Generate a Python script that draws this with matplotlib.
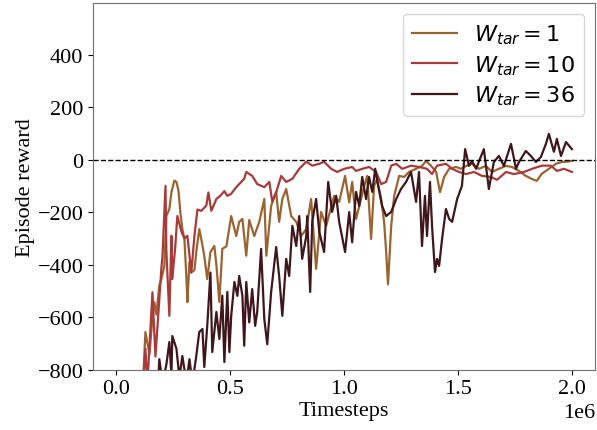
import numpy as np
import matplotlib
matplotlib.use("Agg")
import matplotlib.pyplot as plt

plt.rcParams['font.family'] = ['Liberation Serif', 'DejaVu Serif']
plt.rcParams['font.size'] = 16

# timesteps in millions, rewards
steps_w10 = [0.116, 0.129, 0.138, 0.160, 0.173, 0.182, 0.199, 0.204, 0.217, 0.221,
             0.234, 0.243, 0.247, 0.260, 0.269, 0.287, 0.300, 0.313, 0.330, 0.344,
             0.357, 0.374, 0.396, 0.405, 0.418, 0.440, 0.457, 0.475, 0.488, 0.505,
             0.527, 0.549, 0.562, 0.571, 0.597, 0.619, 0.650, 0.672, 0.685, 0.702,
             0.724, 0.746, 0.773, 0.803, 0.834, 0.860, 0.891, 0.912, 0.943, 0.969,
             1.000, 1.035, 1.052, 1.079, 1.109, 1.140, 1.162, 1.184, 1.206, 1.228,
             1.254, 1.293, 1.328, 1.363, 1.385, 1.407, 1.446, 1.473, 1.503, 1.534,
             1.569, 1.604, 1.643, 1.670, 1.709, 1.744, 1.788, 1.823, 1.866, 1.906,
             1.932, 1.963, 1.998]
reward_w10 = [-900, -720, -850, -505, -750, -635, -415, -365, -100, -350,
              -595, -290, -455, -330, -215, -275, -300, -290, -430, -290,
              -190, -195, -175, -125, -195, -150, -138, -120, -138, -130,
              -105, -85, -73, -47, -62, -93, -105, -85, -160, -125,
              -62, -85, -73, -35, -8, -23, -16, -8, -35, -47,
              -35, -28, -43, -35, -28, -47, -93, -85, -23, -16,
              -35, -23, -28, -35, -55, -23, -16, -35, -47, -55,
              -47, -62, -66, -77, -47, -55, -47, -35, -23, -23,
              -43, -35, -47]

steps_w1 = [0.116, 0.129, 0.147, 0.160, 0.168, 0.177, 0.190, 0.199, 0.212, 0.221,
            0.234, 0.243, 0.256, 0.265, 0.274, 0.282, 0.291, 0.300, 0.309, 0.313,
            0.322, 0.330, 0.344, 0.352, 0.365, 0.374, 0.387, 0.400, 0.414, 0.431,
            0.440, 0.453, 0.466, 0.484, 0.505, 0.527, 0.540, 0.554, 0.571, 0.584,
            0.606, 0.628, 0.650, 0.659, 0.680, 0.702, 0.715, 0.729, 0.746, 0.768,
            0.790, 0.812, 0.834, 0.855, 0.877, 0.899, 0.921, 0.956, 0.978, 1.004,
            1.022, 1.035, 1.052, 1.074, 1.088, 1.101, 1.118, 1.131, 1.144, 1.162,
            1.175, 1.184, 1.192, 1.206, 1.219, 1.241, 1.263, 1.284, 1.315, 1.341,
            1.359, 1.381, 1.403, 1.420, 1.438, 1.460, 1.490, 1.512, 1.534, 1.560,
            1.591, 1.621, 1.648, 1.678, 1.709, 1.735, 1.766, 1.796, 1.823, 1.844,
            1.866, 1.897, 1.928, 1.954, 1.976, 1.998]
reward_w1 = [-900, -657, -740, -600, -543, -590, -480, -455, -405, -215,
             -188, -124, -80, -85, -118, -200, -265, -302, -455, -543,
             -390, -430, -420, -352, -265, -302, -367, -455, -352, -329,
             -400, -542, -340, -330, -215, -291, -237, -226, -366, -230,
             -291, -237, -150, -366, -176, -123, -237, -150, -112, -215,
             -237, -291, -264, -150, -416, -199, -253, -138, -161, -62,
             -163, -85, -226, -150, -100, -62, -302, -100, -74, -150,
             -237, -352, -475, -253, -138, -62, -66, -47, -35, -24,
             -5, -24, -47, -124, -66, -35, -28, -35, -24, -16,
             -35, -24, -47, -35, -24, -28, -43, -62, -74, -81,
             -54, -35, -16, -9, -8, -5]

steps_w36 = [0.182, 0.190, 0.204, 0.221, 0.234, 0.243, 0.247, 0.265, 0.278, 0.291,
             0.309, 0.322, 0.335, 0.352, 0.365, 0.379, 0.387, 0.400, 0.414, 0.422,
             0.440, 0.453, 0.466, 0.475, 0.488, 0.497, 0.505, 0.519, 0.532, 0.540,
             0.554, 0.562, 0.571, 0.584, 0.597, 0.610, 0.619, 0.636, 0.650, 0.663,
             0.680, 0.702, 0.715, 0.729, 0.746, 0.759, 0.773, 0.790, 0.803, 0.816,
             0.834, 0.838, 0.851, 0.860, 0.877, 0.891, 0.912, 0.930, 0.947, 0.965,
             0.978, 1.004, 1.022, 1.035, 1.052, 1.066, 1.079, 1.096, 1.109, 1.123,
             1.136, 1.149, 1.166, 1.184, 1.206, 1.228, 1.249, 1.271, 1.293, 1.315,
             1.328, 1.341, 1.354, 1.363, 1.376, 1.385, 1.398, 1.407, 1.416, 1.429,
             1.446, 1.460, 1.473, 1.495, 1.516, 1.530, 1.547, 1.560, 1.578, 1.612,
             1.634, 1.656, 1.678, 1.700, 1.731, 1.753, 1.766, 1.796, 1.818, 1.840,
             1.862, 1.884, 1.897, 1.919, 1.932, 1.950, 1.972, 1.998]
reward_w36 = [-900, -760, -850, -780, -695, -820, -672, -720, -830, -748,
              -850, -760, -850, -748, -657, -645, -790, -633, -430, -733,
              -580, -683, -518, -771, -504, -733, -595, -466, -519, -443,
              -518, -709, -466, -620, -493, -633, -580, -340, -607, -703,
              -504, -333, -443, -595, -378, -443, -252, -329, -215, -378,
              -291, -215, -504, -237, -150, -275, -352, -85, -199, -138,
              -237, -352, -200, -315, -123, -176, -66, -150, -66, -123,
              -35, -100, -176, -215, -199, -150, -112, -85, -47, -161,
              -47, -329, -138, -291, -85, -253, -428, -378, -405, -302,
              -188, -226, -237, -150, -100, 40, -24, -5, -35, 40,
              -112, -9, 14, -24, 60, -35, -9, 33, 14, -9,
              10, 60, 98, 30, 79, 14, 67, 40]

labels = ['$W_{tar} = 1$', '$W_{tar} = 10$', '$W_{tar} = 36$']
colors = ['#9a6330', '#a83a3a', '#3f161a']

fig = plt.figure(figsize=(5.97, 4.31), dpi=100)
ax = fig.add_axes([0.156, 0.140, 0.841, 0.851])

series = [(steps_w1, reward_w1), (steps_w10, reward_w10), (steps_w36, reward_w36)]
for (s, r), lab, c in zip(series, labels, colors):
    ax.plot(np.array(s) * 1e6, r, color=c, lw=1.6, label=lab)

ax.axhline(0, color='black', ls='--', lw=1)

ax.set_xlim(-0.1e6, 2.1e6)
ax.set_ylim(-800, 597)
ax.set_yticks([-800, -600, -400, -200, 0, 200, 400])
ax.set_xlabel('Timesteps', labelpad=2)
ax.set_ylabel('Episode reward', labelpad=2)
ax.xaxis.get_offset_text().set_family('Liberation Serif')
ax.xaxis.get_offset_text().set_size(16)
for sp in ax.spines.values():
    sp.set_color('#707070')

leg = ax.legend(loc='upper right', prop={'family': 'DejaVu Sans', 'size': 16},
                handlelength=2.0, borderpad=0.4, labelspacing=0.3)

fig.savefig('out.png', dpi=100)
